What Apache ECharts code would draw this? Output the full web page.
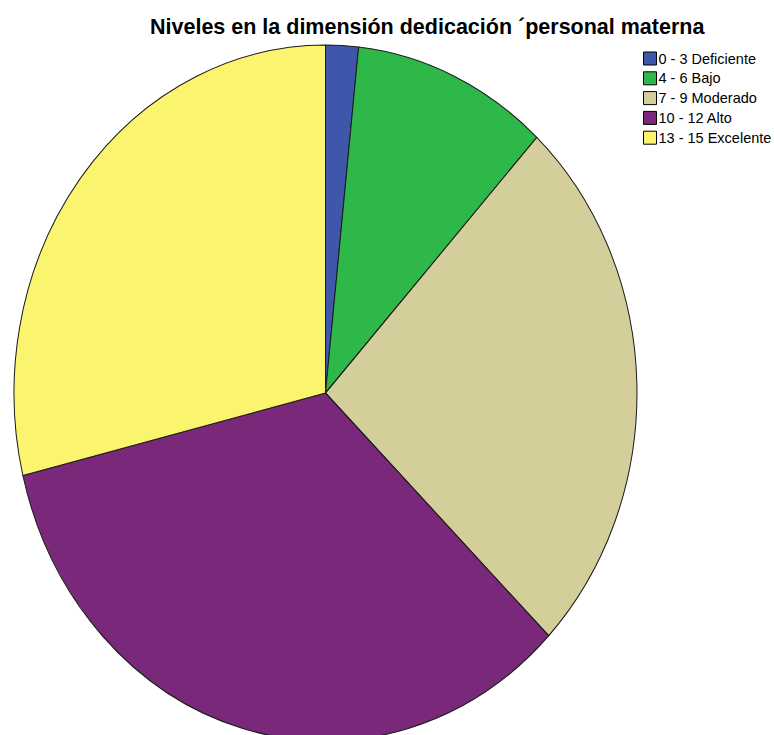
<!DOCTYPE html>
<html>
<head>
<meta charset="utf-8">
<script src="https://cdn.jsdelivr.net/npm/echarts@6/dist/echarts.min.js"></script>
<style>
  html, body { margin: 0; padding: 0; background: #fff; overflow: hidden; }
  #wrap { position: relative; width: 774px; height: 735px; overflow: hidden; }
  #pie, #labels { position: absolute; left: 0; top: 0; width: 774px; height: 735px; }
  /* the pie is drawn as a circle, then stretched vertically into an ellipse */
  #pie { transform: scaleY(1.117); transform-origin: 325.5px 393px; }
</style>
</head>
<body>
<div id="wrap">
  <div id="pie"></div>
  <div id="labels"></div>
</div>
<script>
const titleText = 'Niveles en la dimensión dedicación ´personal materna';
const categories = ['0 - 3 Deficiente', '4 - 6 Bajo', '7 - 9 Moderado', '10 - 12 Alto', '13 - 15 Excelente'];
const counts = [1, 6, 15, 20, 17];
const colors = ['#3e57ab', '#2fb84a', '#d4cf9a', '#7a2879', '#fbf46e'];

const seriesData = categories.map((name, i) => ({
  name: name,
  value: counts[i],
  itemStyle: { color: colors[i] }
}));

const pieChart = echarts.init(document.getElementById('pie'), null, { renderer: 'svg' });
pieChart.setOption({
  animation: false,
  series: [{
    type: 'pie',
    center: [325.5, 393],
    radius: [0, 311.5],
    startAngle: 90,
    clockwise: true,
    data: seriesData,
    label: { show: false },
    labelLine: { show: false },
    emphasis: { disabled: true },
    itemStyle: { borderColor: '#1a1a1a', borderWidth: 1 }
  }]
});

// Title and legend live in an unstretched layer on top.
const labelChart = echarts.init(document.getElementById('labels'), null, { renderer: 'svg' });
labelChart.setOption({
  animation: false,
  title: {
    text: titleText,
    left: 150,
    top: 16,
    padding: 0,
    textStyle: { fontFamily: 'Liberation Sans, Arial, sans-serif', fontSize: 21.5, fontWeight: 'bold', color: '#000' }
  },
  legend: {
    orient: 'vertical',
    left: 643,
    top: 51,
    padding: 0,
    itemWidth: 13,
    itemHeight: 13,
    itemGap: 4.8,
    icon: 'rect',
    data: categories,
    itemStyle: { borderColor: '#000', borderWidth: 1 },
    textStyle: { fontFamily: 'Liberation Sans, Arial, sans-serif', fontSize: 14.5, lineHeight: 13, color: '#000', padding: [0, 0, 0, -3] },
    selectedMode: false
  },
  series: [{
    type: 'pie',
    center: [-100, -100],
    radius: [0, 0],
    data: seriesData,
    label: { show: false },
    labelLine: { show: false },
    silent: true
  }]
});
</script>
</body>
</html>
